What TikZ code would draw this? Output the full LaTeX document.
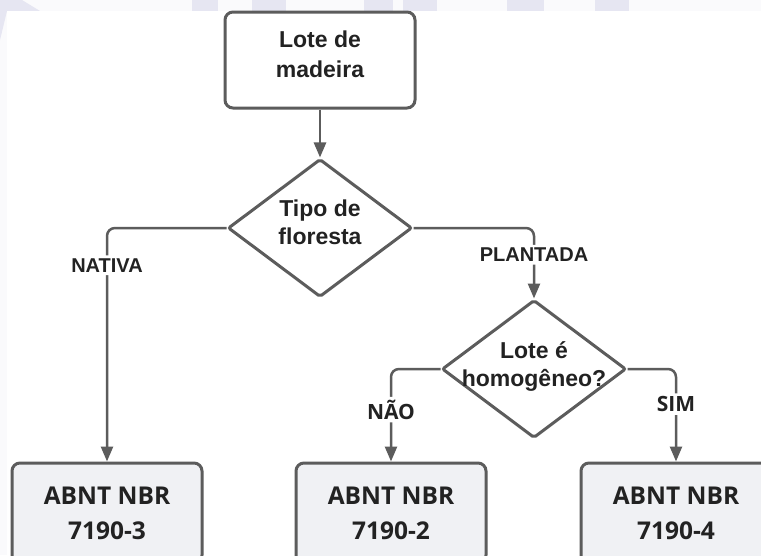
\documentclass[tikz,border=0pt]{standalone}
\usepackage{fontspec}
\setmainfont{Liberation Sans}
\newfontfamily\opensans{Open Sans}
\usetikzlibrary{shapes.geometric,arrows.meta,positioning}

\definecolor{linegray}{HTML}{5C5C5C}
\definecolor{textgray}{HTML}{222222}
\definecolor{boxfill}{HTML}{F0F1F4}
\definecolor{wmark}{HTML}{E6E6F2}
\definecolor{paper}{HTML}{FAFAFC}

\tikzset{
  process/.style={draw=linegray, line width=3pt, rounded corners=8pt,
    minimum width=190pt, minimum height=96pt, fill=white, text=textgray,
    font=\fontsize{23}{30}\selectfont\bfseries, align=center},
  norma/.style={process, fill=boxfill, minimum height=100pt,
    font=\opensans\fontsize{24.5}{35}\selectfont\bfseries},
  decision/.style={draw=linegray, line width=3pt, diamond, rounded corners=2pt,
    minimum width=184pt, minimum height=138pt, inner sep=0pt, aspect=1.33, fill=white},
  dtext/.style={text=textgray, font=\fontsize{23}{28}\selectfont\bfseries, align=center},
  flow/.style={draw=linegray, line width=2.5pt, rounded corners=8pt,
    -{Triangle[length=15pt,width=12pt]}},
  branch/.style={fill=white, text=textgray, font=\fontsize{20}{24}\selectfont\bfseries, inner sep=3pt},
  branchb/.style={branch, font=\opensans\fontsize{21}{24}\selectfont\bfseries},
}

\begin{document}
\begin{tikzpicture}[x=1pt, y=-1pt]
  \useasboundingbox (0,0) rectangle (761,555);
  \clip (0,0) rectangle (761,555);
  % background and watermark
  \fill[paper] (0,0) rectangle (761,555);
  \foreach \a/\b in {192/218, 252/286, 364/393, 403/437, 507/544, 595/629}
    \fill[wmark] (\a,0) rectangle (\b,11);
  \fill[wmark] (0,0) -- (22,0) -- (40,11) -- (7,11) -- (0,40) -- cycle;
  \fill[white] (7,11) rectangle (761,555);

  % nodes
  \node[process, text depth=12pt] (lot) at (320,60) {Lote de\\madeira};
  \node[decision] (tipo) at (320,228) {};
  \node[dtext] (tipotxt) at (320,222) {Tipo de\\floresta};
  \node[decision] (homog) at (534,369) {};
  \node[dtext] (homogtxt) at (534,366) {Lote é\\homogêneo?};
  \node[norma] (nbr3) at (107,513) {ABNT NBR\\7190-3};
  \node[norma] (nbr2) at (391,513) {ABNT NBR\\7190-2};
  \node[norma] (nbr4) at (676,513) {ABNT NBR\\7190-4};

  % connectors
  \draw[flow] (lot) -- (tipo);
  \draw[flow] (tipo.west) -| node[branch, pos=0.58] {NATIVA} (nbr3.north);
  \draw[flow] (tipo.east) -| node[branch, pos=0.69] {PLANTADA} (homog.north);
  \draw[flow] (homog.west) -| node[branchb, pos=0.72] {NÃO} (nbr2.north);
  \draw[flow] (homog.east) -| node[branchb, pos=0.69] {SIM} (nbr4.north);
\end{tikzpicture}
\end{document}
